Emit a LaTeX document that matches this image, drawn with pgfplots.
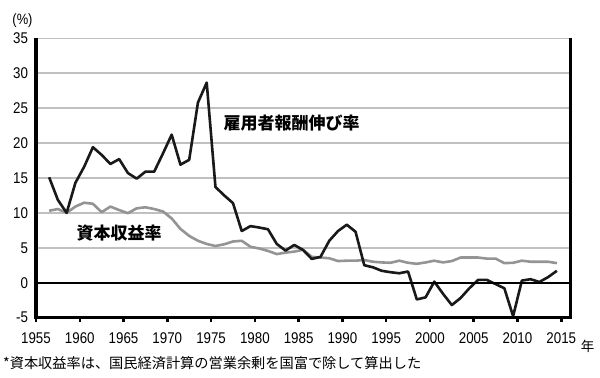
\documentclass[border=0pt]{standalone}
\usepackage{fontspec}
\setmainfont{Liberation Sans}
\newfontfamily\narrowfont{Liberation Sans}[FakeStretch=0.86]
\newfontfamily\cjk{Noto Sans CJK JP}
\usepackage{pgfplots}
\pgfplotsset{compat=1.18}
\definecolor{gridgray}{RGB}{192,192,192}
\definecolor{linegray}{RGB}{148,148,148}
\definecolor{lineblack}{RGB}{25,25,25}
\begin{document}
\begin{tikzpicture}
\path[use as bounding box] (0,0) rectangle (600bp,378bp);
\begin{axis}[
  at={(36bp,60.4bp)}, anchor=south west,
  scale only axis, width=534bp, height=279.3bp,
  xmin=1955, xmax=2016, ymin=-5, ymax=35,
  xtick={1955,1960,...,2015}, ytick={-5,0,...,35},
  axis line style={draw=none},
  ymajorgrids, grid style={gridgray, line width=1.5bp},
  tick align=outside, xtick pos=bottom, ytick pos=left,
  major tick length=4.5bp,
  xtick style={draw=black, line width=2.5bp},
  ytick style={draw=none},
  tick label style={font=\narrowfont\fontsize{15.5bp}{17bp}\selectfont},
  /pgf/number format/assume math mode=true,
  xticklabel style={/pgf/number format/1000 sep={}, yshift=-7bp},
  clip=false,
]
\addplot[linegray, line width=2.6bp, line join=round] coordinates {
(1956.5,10.3) (1957.5,10.55) (1958.5,10.0) (1959.5,10.9) (1960.5,11.45)
(1961.5,11.3) (1962.5,10.1) (1963.5,10.9) (1964.5,10.4) (1965.5,9.95)
(1966.5,10.65) (1967.5,10.8) (1968.5,10.55) (1969.5,10.2) (1970.5,9.2)
(1971.5,7.7) (1972.5,6.7) (1973.5,6.0) (1974.5,5.55) (1975.5,5.25)
(1976.5,5.5) (1977.5,5.9) (1978.5,6.0) (1979.5,5.15) (1980.5,4.9)
(1981.5,4.55) (1982.5,4.1) (1983.5,4.3) (1984.5,4.45) (1985.5,4.7)
(1986.5,3.7) (1987.5,3.6) (1988.5,3.5) (1989.5,3.1) (1990.5,3.15)
(1991.5,3.15) (1992.5,3.25) (1993.5,3.0) (1994.5,2.9) (1995.5,2.85)
(1996.5,3.15) (1997.5,2.85) (1998.5,2.7) (1999.5,2.9) (2000.5,3.15)
(2001.5,2.9) (2002.5,3.1) (2003.5,3.6) (2004.5,3.6) (2005.5,3.6)
(2006.5,3.45) (2007.5,3.45) (2008.5,2.8) (2009.5,2.85) (2010.5,3.15)
(2011.5,3.0) (2012.5,3.0) (2013.5,3.0) (2014.5,2.8)
};
\addplot[lineblack, line width=2.6bp, line join=round] coordinates {
(1956.5,15.1) (1957.5,11.85) (1958.5,10.0) (1959.5,14.3) (1960.5,16.6)
(1961.5,19.4) (1962.5,18.3) (1963.5,17.0) (1964.5,17.7) (1965.5,15.7)
(1966.5,14.9) (1967.5,15.9) (1968.5,15.9) (1969.5,18.5) (1970.5,21.2)
(1971.5,16.9) (1972.5,17.6) (1973.5,25.8) (1974.5,28.65) (1975.5,13.7)
(1976.5,12.5) (1977.5,11.4) (1978.5,7.4) (1979.5,8.1) (1980.5,7.9)
(1981.5,7.65) (1982.5,5.55) (1983.5,4.6) (1984.5,5.4) (1985.5,4.7)
(1986.5,3.4) (1987.5,3.7) (1988.5,6.0) (1989.5,7.4) (1990.5,8.3)
(1991.5,7.3) (1992.5,2.5) (1993.5,2.2) (1994.5,1.7) (1995.5,1.5)
(1996.5,1.35) (1997.5,1.6) (1998.5,-2.4) (1999.5,-2.1) (2000.5,0.15)
(2001.5,-1.6) (2002.5,-3.2) (2003.5,-2.2) (2004.5,-0.8) (2005.5,0.4)
(2006.5,0.4) (2007.5,-0.2) (2008.5,-0.8) (2009.5,-4.8) (2010.5,0.3)
(2011.5,0.5) (2012.5,0.1) (2013.5,0.8) (2014.5,1.7)
};
\draw[black, line width=2bp] (axis cs:1955,0) -- (axis cs:2016,0);
\draw[black, line width=3bp] (rel axis cs:0,1) -- (rel axis cs:0,0) -- (rel axis cs:1,0) -- (rel axis cs:1,1);
\node[font=\cjk\bfseries\fontsize{17bp}{19bp}\selectfont, fill=white, inner sep=1bp] at (axis cs:1984.2,22.9) {雇用者報酬伸び率};
\node[font=\cjk\bfseries\fontsize{17bp}{19bp}\selectfont, inner sep=1bp] at (axis cs:1964.5,7.1) {資本収益率};
\end{axis}
\node[font=\narrowfont\fontsize{15bp}{17bp}\selectfont] at (22.5bp,357bp) {(\%)};
\node[font=\cjk\fontsize{13.5bp}{16bp}\selectfont] at (587.5bp,32bp) {年};
\node[font=\cjk\fontsize{14.2bp}{16bp}\selectfont, anchor=west, inner sep=0pt] at (3bp,14.5bp) {*資本収益率は、国民経済計算の営業余剰を国富で除して算出した};
\end{tikzpicture}
\end{document}
